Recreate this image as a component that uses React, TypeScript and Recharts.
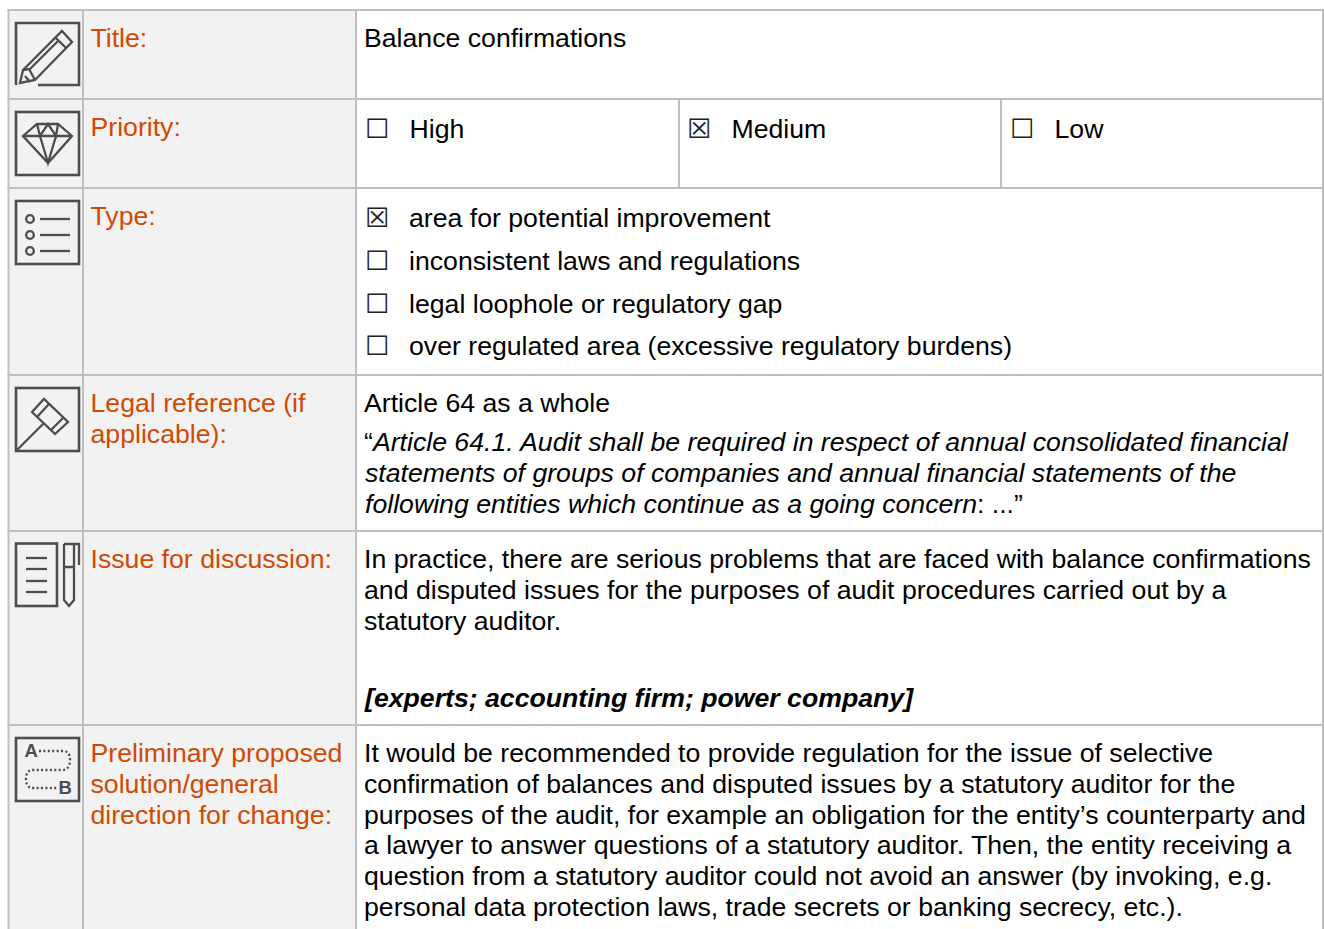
import { ComposedChart, ReferenceArea, ReferenceLine, XAxis, YAxis } from "recharts";

const WIDTH = 1324;
const HEIGHT = 929;
const FONT = "'Liberation Sans', Arial, sans-serif";
const SIZE = 26.67;
const ORANGE = "#d04a02";
const GRID = "#bfbfbf";
const ICON = "#4d4d4d";

// table structure
const rowEdges = [10, 99, 188, 375, 531, 725, 929];
const colEdges = [8.5, 83, 356, 1323];
const priorityEdges = [679, 1001];

const rowLabels = [
  ["Title:"],
  ["Priority:"],
  ["Type:"],
  ["Legal reference (if", "applicable):"],
  ["Issue for discussion:"],
  ["Preliminary proposed", "solution/general", "direction for change:"],
];
const labelBaselines = [47, 136, 225, 412, 568, 762];

const titleText = "Balance confirmations";
const priorityOptions = ["High", "Medium", "Low"];
const priorityChecks = ["☐", "☒", "☐"];
const priorityX = [367, 689, 1012];
const typeOptions = [
  "area for potential improvement",
  "inconsistent laws and regulations",
  "legal loophole or regulatory gap",
  "over regulated area (excessive regulatory burdens)",
];
const typeChecks = ["☒", "☐", "☐", "☐"];
const typeBaselines = [227, 270, 313, 355];

const issueLines = [
  "In practice, there are serious problems that are faced with balance confirmations",
  "and disputed issues for the purposes of audit procedures carried out by a",
  "statutory auditor.",
];
const solutionLines = [
  "It would be recommended to provide regulation for the issue of selective",
  "confirmation of balances and disputed issues by a statutory auditor for the",
  "purposes of the audit, for example an obligation for the entity’s counterparty and",
  "a lawyer to answer questions of a statutory auditor. Then, the entity receiving a",
  "question from a statutory auditor could not avoid an answer (by invoking, e.g.",
  "personal data protection laws, trade secrets or banking secrecy, etc.).",
];
const solutionBaselines = [762, 793, 824, 854, 885, 916];

function T(props: any) {
  const { x, y, children, fill = "#000", size = SIZE, ...rest } = props;
  return (
    <text x={x} y={y} fill={fill} fontFamily={FONT} fontSize={size} {...rest}>
      {children}
    </text>
  );
}

function Check({ x, y, glyph }: { x: number; y: number; glyph: string }) {
  return (
    <text x={x - 2} y={y} fontFamily="'DejaVu Sans'" fontSize={27} fill="#222">
      {glyph}
    </text>
  );
}

function Icons() {
  const common = { fill: "none", stroke: ICON, strokeWidth: 2.6 };
  const thin = { fill: "none", stroke: ICON, strokeWidth: 2.3 };
  return (
    <g>
      {/* pencil */}
      <path d="M38 85H79V23H16V85" {...common} />
      <path d="M20 83L23 70L62 31L72 42L35 80Z" {...thin} />
      <path d="M55 37L66 48M30 69L58 41M23 70L29 69L35 80M25 76L30 82" {...thin} />
      {/* diamond */}
      <rect x={16} y={112} width={63} height={63} {...common} />
      <path d="M23 136L37 124H58L72 136L48 163ZM23 136H72" {...thin} />
      <path d="M37 124L40 136L48 124L56 136L58 124M40 136L48 163L56 136" {...thin} />
      {/* list */}
      <rect x={16} y={201} width={63} height={63} {...common} />
      {[219, 235, 251].map((cy) => (
        <g key={cy}>
          <circle cx={30} cy={cy} r={3.8} {...thin} />
          <path d={`M40 ${cy}H70`} {...thin} />
        </g>
      ))}
      {/* gavel */}
      <rect x={16} y={388} width={63} height={63} {...common} />
      <path d="M32 412L44 399L68 422L55 434Z" {...thin} />
      <path d="M37 417L49 404M51 430L63 418M17 450L44 423" {...thin} />
      {/* document and pen */}
      <rect x={16} y={543.5} width={41} height={62.5} {...common} />
      {[558, 569, 581, 592].map((ly) => (
        <path key={ly} d={`M26 ${ly}H47`} {...thin} />
      ))}
      <path d="M64 544V600L69 606L74 600V544M64 544H79V565M64 567H74" {...thin} />
      {/* route */}
      <rect x={16} y={738} width={63} height={63} {...common} />
      <path
        d="M39 751H63Q70 751 70 760Q70 770 62 770H33Q26 770 26 779Q26 788 33 788H58"
        fill="none"
        stroke={ICON}
        strokeWidth={2.4}
        strokeDasharray="2 2.4"
      />
      <T x={24.5} y={757} size={18.5} fontWeight="bold" fill={ICON}>A</T>
      <T x={58.5} y={794} size={18.5} fontWeight="bold" fill={ICON}>B</T>
    </g>
  );
}

function TableText() {
  return (
    <g>
      <Icons />
      {rowLabels.map((lines, i) =>
        lines.map((line, j) => (
          <T key={line} x={90.5} y={labelBaselines[i] + j * 31} fill={ORANGE}>
            {line}
          </T>
        )),
      )}
      <T x={364} y={47}>{titleText}</T>
      {priorityOptions.map((opt, i) => (
        <g key={opt}>
          <Check x={priorityX[i]} y={138} glyph={priorityChecks[i]} />
          <T x={priorityX[i] + 42.5} y={138}>{opt}</T>
        </g>
      ))}
      {typeOptions.map((opt, i) => (
        <g key={opt}>
          <Check x={367} y={typeBaselines[i]} glyph={typeChecks[i]} />
          <T x={409} y={typeBaselines[i]}>{opt}</T>
        </g>
      ))}
      <T x={364} y={412}>Article 64 as a whole</T>
      <T x={364} y={451}>
        “<tspan fontStyle="italic">Article 64.1. Audit shall be required in respect of annual consolidated financial</tspan>
      </T>
      <T x={365} y={482} fontStyle="italic">statements of groups of companies and annual financial statements of the</T>
      <T x={365} y={513}>
        <tspan fontStyle="italic">following entities which continue as a going concern</tspan>: ...”
      </T>
      {issueLines.map((line, i) => (
        <T key={line} x={364} y={568 + i * 31}>{line}</T>
      ))}
      <T x={365} y={707} fontStyle="italic" fontWeight="bold">[experts; accounting firm; power company]</T>
      {solutionLines.map((line, i) => (
        <T key={line} x={364} y={solutionBaselines[i]}>{line}</T>
      ))}
    </g>
  );
}

export default function App() {
  return (
    <div style={{ position: "absolute", left: 0, top: 0, width: WIDTH, height: HEIGHT, overflow: "hidden" }}>
      <ComposedChart width={WIDTH} height={HEIGHT} data={rowLabels.map((_, i) => ({ row: i }))} margin={{ top: 0, right: 0, bottom: 0, left: 0 }}>
        <XAxis type="number" dataKey="row" hide domain={[0, WIDTH]} allowDataOverflow />
        <YAxis type="number" dataKey="row" hide reversed domain={[0, HEIGHT]} allowDataOverflow />
        <ReferenceArea x1={colEdges[0]} x2={colEdges[2]} y1={rowEdges[0]} y2={HEIGHT} fill="#f2f2f2" fillOpacity={1} stroke="none" ifOverflow="visible" />
        {rowEdges.slice(0, 6).map((y) => (
          <ReferenceLine key={y} segment={[{ x: colEdges[0] - 1, y }, { x: colEdges[3] + 1, y }]} stroke={GRID} strokeWidth={2} ifOverflow="visible" />
        ))}
        {colEdges.map((x) => (
          <ReferenceLine key={x} segment={[{ x, y: rowEdges[0] }, { x, y: HEIGHT }]} stroke={GRID} strokeWidth={2} ifOverflow="visible" />
        ))}
        {priorityEdges.map((x) => (
          <ReferenceLine key={x} segment={[{ x, y: rowEdges[1] }, { x, y: rowEdges[2] }]} stroke={GRID} strokeWidth={2} ifOverflow="visible" />
        ))}
        {/* text and icons go through a reference area so they sit above the shaded column */}
        <ReferenceArea x1={0} x2={WIDTH} y1={0} y2={HEIGHT} ifOverflow="visible" shape={() => <TableText />} />
      </ComposedChart>
    </div>
  );
}
